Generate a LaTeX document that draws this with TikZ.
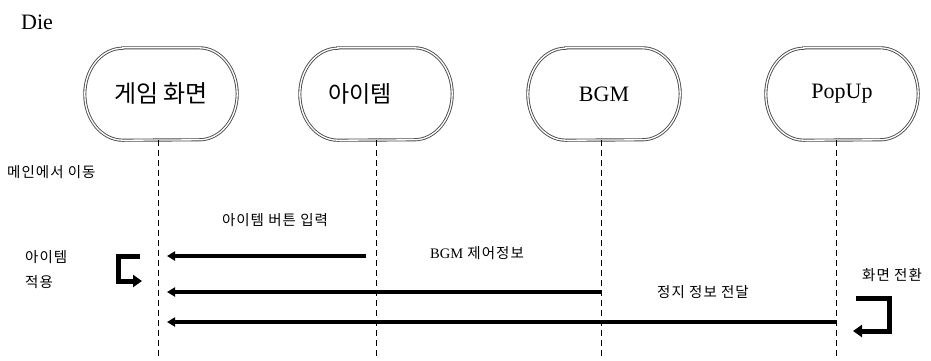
\documentclass[tikz,border=0pt]{standalone}
\usepackage{fontspec}
\setmainfont{Liberation Serif}
\newfontfamily\kr{Noto Sans CJK KR}
\newfontfamily\krs[LetterSpace=7]{Noto Sans CJK KR}
\usetikzlibrary{arrows.meta,calc}
\newcommand{\stadiumbox}[1]{%
  \draw[boxline] ($(#1.north west)+(38,0)$) -- ($(#1.north east)+(-38,0)$)
    arc[start angle=90, end angle=-90, x radius=38pt, y radius=46pt]
    -- ($(#1.south west)+(38,0)$)
    arc[start angle=270, end angle=90, x radius=38pt, y radius=46pt] -- cycle;}
\begin{document}
\begin{tikzpicture}[x=1pt,y=-1pt,
  actor/.style={minimum width=152pt, minimum height=92pt, inner sep=0pt,
    font=\fontsize{22}{26}\selectfont},
  boxline/.style={draw=black!70, double=white, double distance=1.3pt, line width=0.9pt},
  life/.style={draw=black, line width=0.6pt, dash pattern=on 6pt off 4pt},
  msg/.style={draw=black, line width=3.3pt, -{Triangle[length=8pt,width=9pt]}},
  bracket/.style={draw=black, line width=5pt},
  selfmsg/.style={draw=black, line width=5pt, -{Triangle[length=9pt,width=12pt]}},
  lbl/.style={font=\krs\fontsize{14.5}{17}\selectfont, inner sep=0pt}]
\useasboundingbox (0,0) rectangle (931,360);
\node[font=\fontsize{22}{26}\selectfont, anchor=west, inner sep=0pt] (title) at (21,22) {Die};
\node[actor] (n1) at (161,94) {\kr\fontsize{24}{28}\selectfont 게임 화면};
\node[actor] (n2) at (376,94) {};
\node[font=\kr\fontsize{23}{28}\selectfont, inner sep=0pt] (n2t) at (360,94) {아이템};
\node[actor] (n3) at (604,94) {BGM};
\node[actor] (n4) at (842,94) {PopUp};
\stadiumbox{n1}
\stadiumbox{n2}
\stadiumbox{n3}
\stadiumbox{n4}
\coordinate (b1) at (158,360);
\coordinate (b2) at (376,360);
\coordinate (b3) at (601,360);
\coordinate (b4) at (836,360);
\draw[life] ([xshift=-3pt]n1.south) -- (b1);
\draw[life] (n2.south) -- (b2);
\draw[life] ([xshift=-3pt]n3.south) -- (b3);
\draw[life] ([xshift=-6pt]n4.south) -- (b4);
% labels
\node[lbl, anchor=west] (t1) at (7,172) {메인에서 이동};
\node[lbl] (t2) at (275,220) {아이템 버튼 입력};
\node[lbl, anchor=west] (t3) at (25,257) {아이템};
\node[lbl, anchor=west] (t4) at (25,282) {적용};
\node[lbl] (t5) at (477,253) {{\rmfamily BGM} 제어정보};
\node[lbl] (t6) at (703,292) {정지 정보 전달};
\node[lbl, anchor=west] (t7) at (862,275) {화면 전환};
% messages
\coordinate (m1s) at (366,256); \coordinate (m1e) at (167,256);
\coordinate (m2s) at (601,292); \coordinate (m2e) at (167,292);
\coordinate (m3s) at (836,322); \coordinate (m3e) at (167,322);
\draw[msg] (m1s) -- (m1e);
\draw[msg] (m2s) -- (m2e);
\draw[msg] (m3s) -- (m3e);
% self arrows
\coordinate (s1a) at (140,256); \coordinate (s1c) at (118,281); \coordinate (s1b) at (142,281);
\draw[bracket] (s1a) -| ([yshift=2.5pt]s1c);
\draw[selfmsg] ([xshift=-2.5pt]s1c) -- (s1b);
\coordinate (s2a) at (856,298); \coordinate (s2c) at (889,331); \coordinate (s2b) at (853,331);
\draw[bracket] (s2a) -| ([yshift=2.5pt]s2c);
\draw[selfmsg] ([xshift=2.5pt]s2c) -- (s2b);
\end{tikzpicture}
\end{document}
